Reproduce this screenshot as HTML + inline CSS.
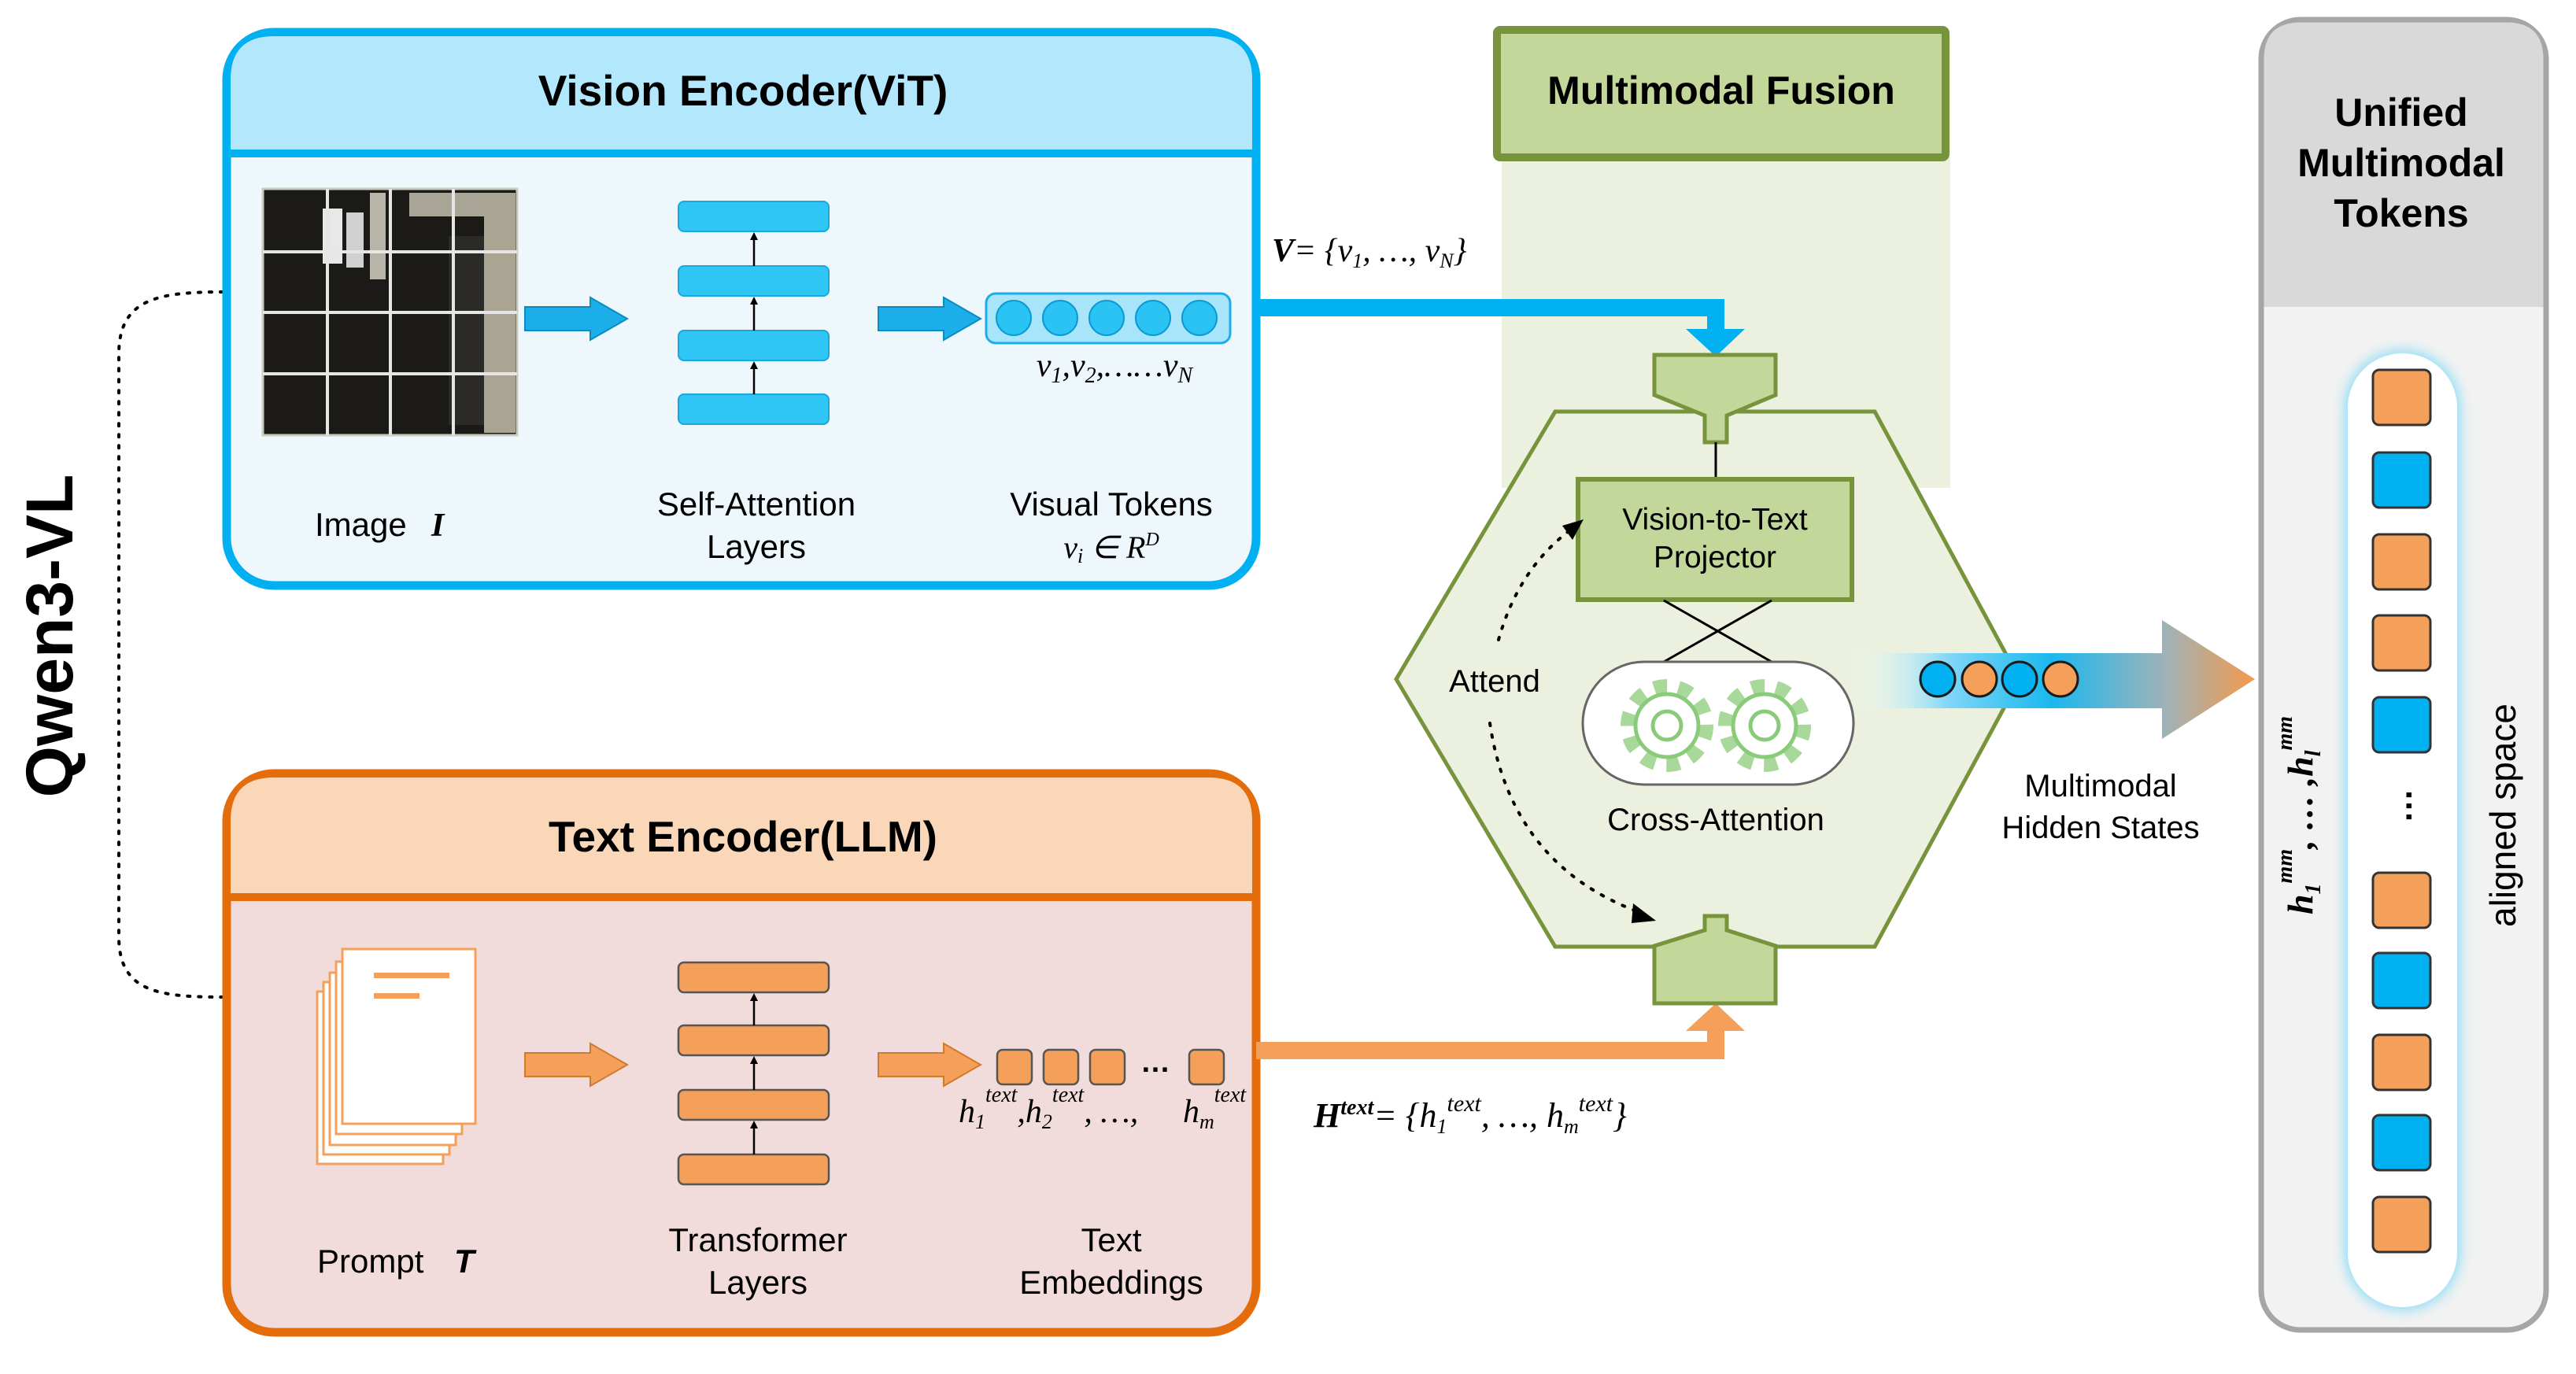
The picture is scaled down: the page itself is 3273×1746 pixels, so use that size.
<!DOCTYPE html>
<html><head><meta charset="utf-8"><style>
html,body{margin:0;padding:0;background:#fff;}
svg{display:block;}
text{font-family:"Liberation Sans",sans-serif;}
.ser{font-family:"Liberation Serif",serif;font-style:italic;}
</style></head><body>
<svg width="3273" height="1746" viewBox="0 0 3273 1746" xmlns="http://www.w3.org/2000/svg">
<defs>
<linearGradient id="ga" x1="2347" y1="0" x2="2865" y2="0" gradientUnits="userSpaceOnUse">
<stop offset="0" stop-color="#ffffff" stop-opacity="0"/>
<stop offset="0.25" stop-color="#7fd6f6"/>
<stop offset="0.5" stop-color="#1ab8ef"/>
<stop offset="0.78" stop-color="#9fb2b8"/>
<stop offset="1" stop-color="#f39a4c"/>
</linearGradient>
<filter id="glow" x="-30%" y="-10%" width="160%" height="120%"><feGaussianBlur stdDeviation="8"/></filter>
<marker id="ah" markerWidth="10" markerHeight="10" refX="5" refY="5" orient="auto" markerUnits="userSpaceOnUse"><path d="M0,0 L10,5 L0,10 z" fill="#000"/></marker>
</defs>

<!-- Qwen3-VL label -->
<text x="0" y="0" transform="translate(92,808) rotate(-90)" text-anchor="middle" font-size="84" font-weight="bold">Qwen3-VL</text>
<path d="M283,371 C200,371 151,380 151,450 L151,1190 C151,1260 200,1267 283,1267" fill="none" stroke="#000" stroke-width="4" stroke-dasharray="3,11" stroke-linecap="round"/>

<!-- Vision encoder -->
<rect x="288" y="41" width="1308" height="703" rx="60" fill="#EEF8FC" stroke="#00B0F0" stroke-width="11"/>
<path d="M293,195 L293,101 Q293,46 348,46 L1536,46 Q1591,46 1591,101 L1591,195 Z" fill="#B3E8FC"/>
<line x1="293" y1="195" x2="1591" y2="195" stroke="#00B0F0" stroke-width="10"/>
<text x="944" y="134" text-anchor="middle" font-size="55" font-weight="bold">Vision Encoder(ViT)</text>

<!-- image -->
<rect x="334" y="240" width="323" height="313" fill="#1b1a17" stroke="#c9cbbd" stroke-width="3"/>
<rect x="615" y="245" width="40" height="305" fill="#a9a592"/>
<rect x="470" y="245" width="20" height="110" fill="#b8b5a8"/>
<rect x="520" y="245" width="95" height="30" fill="#a9a697"/>
<rect x="410" y="265" width="25" height="70" fill="#e8e8e8"/>
<rect x="440" y="270" width="22" height="70" fill="#d0d0d0"/>
<rect x="570" y="300" width="45" height="240" fill="#2b2a26"/>
<g stroke="#e6e6e6" stroke-width="4">
<line x1="416" y1="240" x2="416" y2="553"/><line x1="496" y1="240" x2="496" y2="553"/><line x1="576" y1="240" x2="576" y2="553"/>
<line x1="334" y1="320" x2="657" y2="320"/><line x1="334" y1="397" x2="657" y2="397"/><line x1="334" y1="475" x2="657" y2="475"/>
</g>

<!-- block arrows vision -->
<path d="M667,390 L750,390 L750,378 L797,405 L750,432 L750,420 L667,420 Z" fill="#1BAEE8" stroke="#0a8cc0" stroke-width="2"/>
<path d="M1116,390 L1199,390 L1199,378 L1246,405 L1199,432 L1199,420 L1116,420 Z" fill="#1BAEE8" stroke="#0a8cc0" stroke-width="2"/>

<!-- attention stack -->
<g fill="#2FC6F6" stroke="#19a8dd" stroke-width="2">
<rect x="862" y="256" width="191" height="38" rx="7"/>
<rect x="862" y="338" width="191" height="38" rx="7"/>
<rect x="862" y="420" width="191" height="38" rx="7"/>
<rect x="862" y="501" width="191" height="38" rx="7"/>
</g>
<g stroke="#000" stroke-width="2.5" marker-end="url(#ah)">
<line x1="958" y1="338" x2="958" y2="300"/><line x1="958" y1="420" x2="958" y2="382"/><line x1="958" y1="501" x2="958" y2="464"/>
</g>

<!-- visual tokens -->
<rect x="1253" y="373" width="310" height="63" rx="12" fill="#A8E4FA" stroke="#1BAEE8" stroke-width="3"/>
<g fill="#2BC2F4" stroke="#0a9ad0" stroke-width="2">
<circle cx="1288" cy="404" r="22"/><circle cx="1347" cy="404" r="22"/><circle cx="1406" cy="404" r="22"/><circle cx="1465" cy="404" r="22"/><circle cx="1524" cy="404" r="22"/>
</g>
<text x="1416" y="478" text-anchor="middle" class="ser" font-size="42">v<tspan font-size="28" dy="8">1</tspan><tspan dy="-8">,v</tspan><tspan font-size="28" dy="8">2</tspan><tspan dy="-8">,……v</tspan><tspan font-size="28" dy="8">N</tspan></text>

<text x="400" y="681" font-size="42">Image</text>
<text x="548" y="681" font-size="42" class="ser" font-weight="bold">I</text>
<text x="961" y="655" text-anchor="middle" font-size="42">Self-Attention</text>
<text x="961" y="709" text-anchor="middle" font-size="42">Layers</text>
<text x="1412" y="655" text-anchor="middle" font-size="42">Visual Tokens</text>
<text x="1412" y="709" text-anchor="middle" class="ser" font-size="40">v<tspan font-size="26" dy="6">i</tspan><tspan dy="-6"> ∈ R</tspan><tspan font-size="24" dy="-16">D</tspan></text>

<!-- Text encoder -->
<rect x="288" y="983" width="1308" height="710" rx="60" fill="#F2DCDB" stroke="#E46C0A" stroke-width="11"/>
<path d="M293,1140 L293,1043 Q293,988 348,988 L1536,988 Q1591,988 1591,1043 L1591,1140 Z" fill="#FAD7B8"/>
<line x1="293" y1="1140" x2="1591" y2="1140" stroke="#E46C0A" stroke-width="10"/>
<text x="944" y="1082" text-anchor="middle" font-size="55" font-weight="bold">Text Encoder(LLM)</text>

<!-- doc icon -->
<g fill="#fff" stroke="#F4A05A" stroke-width="3">
<rect x="403" y="1260" width="160" height="219"/>
<rect x="411" y="1248" width="160" height="219"/>
<rect x="419" y="1236" width="160" height="219"/>
<rect x="427" y="1222" width="160" height="219"/>
<rect x="435" y="1206" width="169" height="222"/>
</g>
<rect x="475" y="1236" width="96" height="7" fill="#F4A05A"/>
<rect x="475" y="1262" width="58" height="7" fill="#F4A05A"/>

<path d="M667,1338 L750,1338 L750,1326 L797,1353 L750,1380 L750,1368 L667,1368 Z" fill="#F4A05A" stroke="#d07a30" stroke-width="2"/>
<path d="M1116,1338 L1199,1338 L1199,1326 L1246,1353 L1199,1380 L1199,1368 L1116,1368 Z" fill="#F4A05A" stroke="#d07a30" stroke-width="2"/>

<g fill="#F4A05A" stroke="#555" stroke-width="2.5">
<rect x="862" y="1223" width="191" height="38" rx="7"/>
<rect x="862" y="1303" width="191" height="38" rx="7"/>
<rect x="862" y="1385" width="191" height="38" rx="7"/>
<rect x="862" y="1467" width="191" height="38" rx="7"/>
</g>
<g stroke="#000" stroke-width="2.5" marker-end="url(#ah)">
<line x1="958" y1="1303" x2="958" y2="1267"/><line x1="958" y1="1385" x2="958" y2="1347"/><line x1="958" y1="1467" x2="958" y2="1429"/>
</g>
<g fill="#F4A05A" stroke="#555" stroke-width="2.5">
<rect x="1267" y="1334" width="44" height="44" rx="7"/>
<rect x="1326" y="1334" width="44" height="44" rx="7"/>
<rect x="1385" y="1334" width="44" height="44" rx="7"/>
<rect x="1511" y="1334" width="44" height="44" rx="7"/>
</g>
<text x="1468" y="1362" text-anchor="middle" font-size="38" font-weight="bold">…</text>
<text x="1218" y="1426" class="ser" font-size="42">h<tspan font-size="26" dy="8">1</tspan><tspan font-size="28" dy="-34">text</tspan><tspan dy="26">,h</tspan><tspan font-size="26" dy="8">2</tspan><tspan font-size="28" dy="-34">text</tspan><tspan dy="26">, …,</tspan></text>
<text x="1503" y="1426" class="ser" font-size="42">h<tspan font-size="26" dy="8">m</tspan><tspan font-size="28" dy="-34">text</tspan></text>

<text x="403" y="1617" font-size="42">Prompt</text>
<text x="577" y="1617" font-size="42" font-weight="bold" font-style="italic">T</text>
<text x="963" y="1590" text-anchor="middle" font-size="42">Transformer</text>
<text x="963" y="1644" text-anchor="middle" font-size="42">Layers</text>
<text x="1412" y="1590" text-anchor="middle" font-size="42">Text</text>
<text x="1412" y="1644" text-anchor="middle" font-size="42">Embeddings</text>

<!-- Fusion background -->
<rect x="1908" y="200" width="570" height="420" fill="#EBF1DE"/>
<rect x="1902" y="38" width="570" height="162" fill="#C4D79B" stroke="#77933C" stroke-width="10" rx="4"/>
<text x="2187" y="132" text-anchor="middle" font-size="50" font-weight="bold">Multimodal Fusion</text>

<!-- connectors -->
<path d="M1596,391 L2180,391 L2180,425" fill="none" stroke="#00B0F0" stroke-width="22"/>
<path d="M2142,418 L2217,418 L2180,453 Z" fill="#00B0F0"/>
<text x="1616" y="332" class="ser" font-size="42"><tspan font-weight="bold">V</tspan>=  {v<tspan font-size="26" dy="8">1</tspan><tspan dy="-8">, …, v</tspan><tspan font-size="26" dy="8">N</tspan><tspan dy="-8">}</tspan></text>

<path d="M1596,1335 L2180,1335 L2180,1300" fill="none" stroke="#F4A05A" stroke-width="22"/>
<path d="M2142,1310 L2217,1310 L2180,1275 Z" fill="#F4A05A"/>
<text x="1669" y="1432" class="ser" font-size="44"><tspan font-weight="bold">H</tspan><tspan font-size="28" dy="-16" font-weight="bold">text</tspan><tspan dy="16">=  {h</tspan><tspan font-size="26" dy="8">1</tspan><tspan font-size="30" dy="-28">text</tspan><tspan dy="20">, …, h</tspan><tspan font-size="26" dy="8">m</tspan><tspan font-size="30" dy="-28">text</tspan><tspan dy="20">}</tspan></text>

<!-- hexagon -->
<polygon points="1976,523 2382,523 2566,863 2382,1203 1976,1203 1774,863" fill="#EBF1DE" stroke="#77933C" stroke-width="5"/>

<!-- gradient arrow -->
<path d="M2347,830 L2747,830 L2747,788 L2865,863 L2747,939 L2747,900 L2347,900 Z" fill="url(#ga)"/>
<g stroke="#1a1a1a" stroke-width="3">
<circle cx="2462" cy="863" r="22" fill="#00B0F0"/><circle cx="2515" cy="863" r="22" fill="#F4A05A"/><circle cx="2566" cy="863" r="22" fill="#00B0F0"/><circle cx="2618" cy="863" r="22" fill="#F4A05A"/>
</g>
<text x="2669" y="1012" text-anchor="middle" font-size="40">Multimodal</text>
<text x="2669" y="1065" text-anchor="middle" font-size="40">Hidden States</text>

<!-- funnels -->
<path d="M2102,451 L2256,451 L2256,502 L2194,528 L2194,562 L2166,562 L2166,528 L2102,502 Z" fill="#C4D79B" stroke="#77933C" stroke-width="5"/>
<line x1="2180" y1="562" x2="2180" y2="608" stroke="#000" stroke-width="3"/>
<path d="M2102,1275 L2256,1275 L2256,1202 L2194,1182 L2194,1164 L2166,1164 L2166,1182 L2102,1202 Z" fill="#C4D79B" stroke="#77933C" stroke-width="5"/>

<!-- projector -->
<rect x="2005" y="609" width="348" height="153" fill="#C4D79B" stroke="#77933C" stroke-width="6"/>
<text x="2179" y="673" text-anchor="middle" font-size="39">Vision-to-Text</text>
<text x="2179" y="721" text-anchor="middle" font-size="39">Projector</text>
<g stroke="#000" stroke-width="3"><line x1="2114" y1="763" x2="2251" y2="841"/><line x1="2251" y1="763" x2="2114" y2="841"/></g>

<!-- cross-attention -->
<rect x="2011" y="841" width="344" height="156" rx="78" fill="#fff" stroke="#666" stroke-width="3"/>
<g fill="#fff" stroke="#8ACB7A" stroke-width="5">
<circle cx="2118" cy="922" r="48" stroke-dasharray="16,14" stroke-width="22" fill="none" stroke="#A9D99A"/>
<circle cx="2118" cy="922" r="40"/>
<circle cx="2118" cy="922" r="18"/>
<circle cx="2242" cy="922" r="48" stroke-dasharray="16,14" stroke-width="22" fill="none" stroke="#A9D99A"/>
<circle cx="2242" cy="922" r="40"/>
<circle cx="2242" cy="922" r="18"/>
</g>
<text x="2180" y="1055" text-anchor="middle" font-size="40">Cross-Attention</text>
<text x="1899" y="879" text-anchor="middle" font-size="40">Attend</text>
<path d="M1904,813 Q1930,720 2000,670" fill="none" stroke="#000" stroke-width="4" stroke-dasharray="3,12" stroke-linecap="round"/>
<path d="M1985,668 L2012,660 L1998,686 Z" fill="#000"/>
<path d="M1893,919 Q1920,1100 2085,1160" fill="none" stroke="#000" stroke-width="4" stroke-dasharray="3,12" stroke-linecap="round"/>
<path d="M2075,1148 L2104,1170 L2073,1173 Z" fill="#000"/>

<!-- unified panel -->
<rect x="2873" y="25" width="362" height="1665" rx="50" fill="#F2F2F2" stroke="#A6A6A6" stroke-width="7"/>
<path d="M2876.5,390 L2876.5,75 Q2876.5,28.5 2923,28.5 L3185,28.5 Q3231.5,28.5 3231.5,75 L3231.5,390 Z" fill="#D9D9D9"/>
<text x="3051" y="160" text-anchor="middle" font-size="50" font-weight="bold">Unified</text>
<text x="3051" y="224" text-anchor="middle" font-size="50" font-weight="bold">Multimodal</text>
<text x="3051" y="288" text-anchor="middle" font-size="50" font-weight="bold">Tokens</text>
<rect x="2979" y="445" width="147" height="1220" rx="73" fill="#8fdcf7" filter="url(#glow)"/>
<rect x="2983" y="449" width="139" height="1212" rx="69" fill="#fff"/>
<g stroke="#333" stroke-width="3">
<rect x="3015" y="470" width="73" height="70" rx="8" fill="#F4A05A"/>
<rect x="3015" y="575" width="73" height="70" rx="8" fill="#00B0F0"/>
<rect x="3015" y="679" width="73" height="70" rx="8" fill="#F4A05A"/>
<rect x="3015" y="782" width="73" height="70" rx="8" fill="#F4A05A"/>
<rect x="3015" y="886" width="73" height="70" rx="8" fill="#00B0F0"/>
<rect x="3015" y="1109" width="73" height="70" rx="8" fill="#F4A05A"/>
<rect x="3015" y="1211" width="73" height="70" rx="8" fill="#00B0F0"/>
<rect x="3015" y="1315" width="73" height="70" rx="8" fill="#F4A05A"/>
<rect x="3015" y="1417" width="73" height="70" rx="8" fill="#00B0F0"/>
<rect x="3015" y="1521" width="73" height="70" rx="8" fill="#F4A05A"/>
</g>
<text x="0" y="0" transform="translate(3064,1024) rotate(-90)" text-anchor="middle" font-size="44" font-weight="bold">…</text>
<text x="0" y="0" transform="translate(3196,1036) rotate(-90)" text-anchor="middle" font-size="46">aligned space</text>
<text x="0" y="0" transform="translate(2938,1036) rotate(-90)" text-anchor="middle" class="ser" font-size="46" font-weight="bold">h<tspan font-size="28" dy="10">1</tspan><tspan font-size="28" dy="-36">mm</tspan><tspan dy="26">, … ,h</tspan><tspan font-size="28" dy="10">l</tspan><tspan font-size="28" dy="-36">mm</tspan></text>
</svg>
</body></html>
